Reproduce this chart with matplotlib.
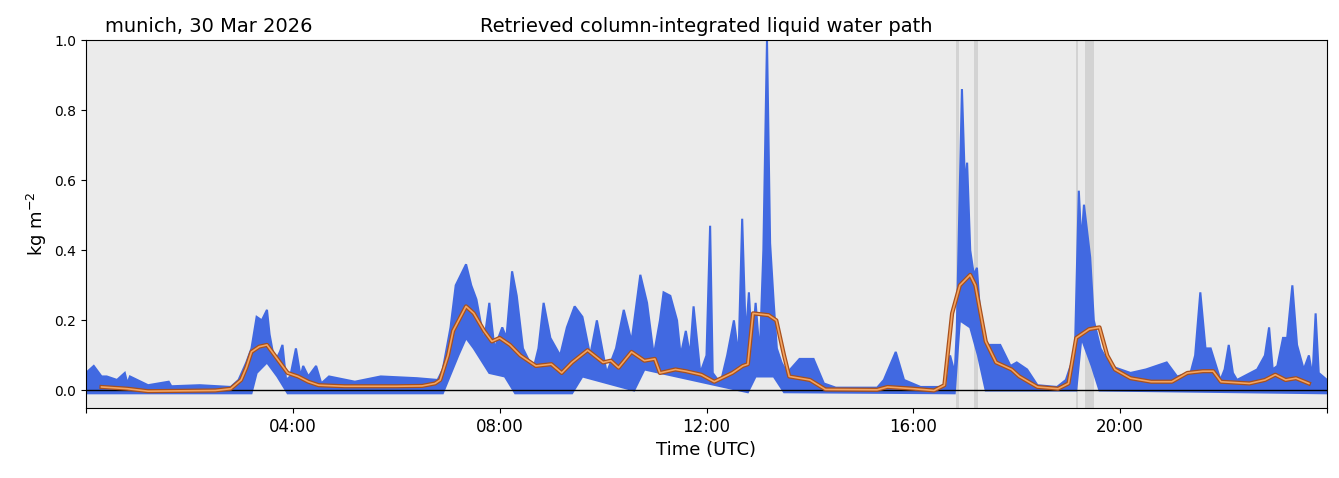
import matplotlib
matplotlib.use("Agg")
import matplotlib.pyplot as plt
import numpy as np

# upper envelope of retrieved LWP (hours UTC, kg m-2)
t_hi = [0.0,0.15,0.3,0.4,0.6,0.75,0.8,0.85,1.2,1.6,1.65,2.2,2.8,2.95,3.1,3.2,3.3,3.4,3.5,3.55,
        3.65,3.75,3.8,3.87,3.95,4.06,4.15,4.2,4.3,4.45,4.55,4.7,5.2,5.7,6.4,6.8,6.9,7.05,7.15,7.35,
        7.45,7.55,7.7,7.8,7.9,8.05,8.13,8.24,8.33,8.45,8.65,8.75,8.85,8.98,9.17,9.3,9.45,9.6,9.75,9.88,
        10.07,10.25,10.4,10.55,10.72,10.85,10.98,11.1,11.17,11.3,11.43,11.5,11.6,11.68,11.75,11.88,12.0,12.07,12.12,12.27,
        12.4,12.53,12.62,12.69,12.76,12.82,12.88,12.95,13.03,13.1,13.17,13.23,13.3,13.36,13.45,13.56,13.8,14.07,14.27,14.5,
        15.3,15.43,15.66,15.82,16.14,16.65,16.71,16.8,16.84,16.88,16.94,17.0,17.04,17.1,17.17,17.23,17.3,17.42,17.68,17.88,
        18.0,18.2,18.4,18.78,18.95,19.04,19.12,19.2,19.25,19.3,19.42,19.49,19.62,19.81,20.2,20.5,20.9,21.1,21.36,21.45,
        21.55,21.65,21.75,21.94,22.02,22.1,22.18,22.26,22.65,22.8,22.88,22.95,23.04,23.15,23.23,23.33,23.42,23.55,23.65,23.72,
        23.78,23.84,24.0]
hi = [0.05,0.07,0.04,0.04,0.03,0.05,0.02,0.04,0.015,0.025,0.012,0.015,0.01,0.03,0.08,0.12,0.21,0.20,0.23,0.16,
      0.08,0.11,0.13,0.03,0.04,0.12,0.04,0.07,0.04,0.07,0.02,0.04,0.025,0.04,0.035,0.03,0.06,0.18,0.30,0.36,
      0.30,0.26,0.14,0.25,0.12,0.18,0.15,0.34,0.27,0.12,0.06,0.12,0.25,0.15,0.10,0.18,0.24,0.21,0.10,0.20,
      0.05,0.12,0.23,0.14,0.33,0.25,0.10,0.20,0.28,0.27,0.20,0.10,0.17,0.10,0.24,0.05,0.10,0.47,0.05,0.02,
      0.10,0.20,0.10,0.49,0.15,0.28,0.12,0.25,0.10,0.40,1.00,0.42,0.25,0.12,0.08,0.05,0.09,0.09,0.02,0.008,
      0.008,0.03,0.11,0.03,0.01,0.01,0.10,0.05,0.17,0.45,0.86,0.58,0.65,0.40,0.33,0.35,0.20,0.13,0.13,0.07,
      0.08,0.06,0.015,0.01,0.03,0.07,0.08,0.57,0.42,0.53,0.38,0.20,0.12,0.07,0.05,0.06,0.08,0.04,0.05,0.10,
      0.28,0.12,0.12,0.03,0.06,0.13,0.05,0.03,0.06,0.10,0.18,0.06,0.07,0.15,0.15,0.30,0.13,0.06,0.10,0.04,
      0.22,0.05,0.03]
# lower envelope
t_lo = [0.0,3.2,3.3,3.5,3.7,3.9,6.9,7.2,7.35,7.5,7.8,8.1,8.3,9.4,9.6,10.6,10.8,12.8,12.95,13.3,
        13.5,16.8,16.9,17.1,17.25,17.4,19.15,19.25,19.45,19.6,24.0]
lo = [-0.008,-0.008,0.05,0.08,0.04,-0.008,-0.008,0.10,0.15,0.12,0.05,0.04,-0.008,-0.008,0.04,0.0,0.06,-0.005,0.04,0.04,
      -0.005,-0.008,0.20,0.18,0.10,0.0,0.0,0.15,0.07,0.0,-0.008]

# smoothed LWP
t_s = [0.3,0.8,1.2,2.5,2.8,3.0,3.1,3.2,3.35,3.5,3.7,3.9,4.1,4.3,4.5,5.0,6.0,6.5,6.75,6.85,
       7.0,7.1,7.35,7.5,7.7,7.85,8.0,8.2,8.4,8.7,9.0,9.2,9.4,9.7,10.0,10.15,10.3,10.55,10.8,11.0,
       11.1,11.4,11.6,11.9,12.15,12.5,12.7,12.8,12.9,13.2,13.35,13.5,13.6,14.0,14.3,15.3,15.5,16.0,16.4,16.6,
       16.75,16.9,17.1,17.2,17.4,17.6,17.9,18.05,18.4,18.8,19.0,19.15,19.4,19.6,19.75,19.9,20.2,20.6,21.0,21.3,
       21.6,21.8,21.95,22.5,22.8,23.0,23.2,23.4,23.65]
smooth = [0.01,0.005,-0.002,0.0,0.005,0.03,0.065,0.11,0.125,0.13,0.09,0.05,0.04,0.025,0.015,0.012,0.012,0.013,0.02,0.03,
          0.10,0.17,0.24,0.22,0.17,0.14,0.15,0.13,0.10,0.07,0.075,0.05,0.08,0.115,0.08,0.085,0.065,0.11,0.085,0.09,
          0.05,0.06,0.055,0.045,0.025,0.05,0.07,0.075,0.22,0.215,0.20,0.10,0.04,0.03,0.003,0.002,0.01,0.005,0.0,0.015,
          0.22,0.30,0.33,0.30,0.14,0.08,0.06,0.04,0.01,0.005,0.02,0.15,0.175,0.18,0.10,0.06,0.035,0.025,0.025,0.05,
          0.055,0.055,0.025,0.02,0.03,0.045,0.03,0.035,0.02]

shade_spans = [(16.83, 16.88), (17.18, 17.25), (19.15, 19.19), (19.32, 19.5)]

fig = plt.figure(figsize=(13.39, 4.78), dpi=100)
ax = fig.add_axes([86/1339, 1-408/478, (1327-86)/1339, (408-40)/478])
ax.set_facecolor('#ebebeb')
for a, b in shade_spans:
    ax.axvspan(a, b, color='#d3d3d3', lw=0)
ax.axhline(0, color='black', lw=1)
ax.fill(np.concatenate([t_hi, t_lo[::-1]]), np.concatenate([hi, lo[::-1]]),
        facecolor='royalblue', edgecolor='royalblue', lw=1.5)
ax.plot(t_s, smooth, color='#a8501c', lw=3)
ax.plot(t_s, smooth, color='#f4a460', lw=1.2)
ax.set_xlim(0, 24)
ax.set_ylim(-0.05, 1.0)
ax.set_xticks([0, 4, 8, 12, 16, 20, 24])
ax.set_xticklabels(['', '04:00', '08:00', '12:00', '16:00', '20:00', ''], fontsize=12)
ax.set_yticks([0, 0.2, 0.4, 0.6, 0.8, 1.0])
ax.set_yticklabels(['0.0', '0.2', '0.4', '0.6', '0.8', '1.0'], fontsize=10)
ax.set_xlabel('Time (UTC)', fontsize=13)
ax.set_ylabel('kg m$^{-2}$', fontsize=13)
ax.set_title('Retrieved column-integrated liquid water path', fontsize=14)
ax.text(0.015, 1.01, 'munich, 30 Mar 2026', transform=ax.transAxes, fontsize=14, va='bottom')
fig.savefig('out.png', dpi=100)
